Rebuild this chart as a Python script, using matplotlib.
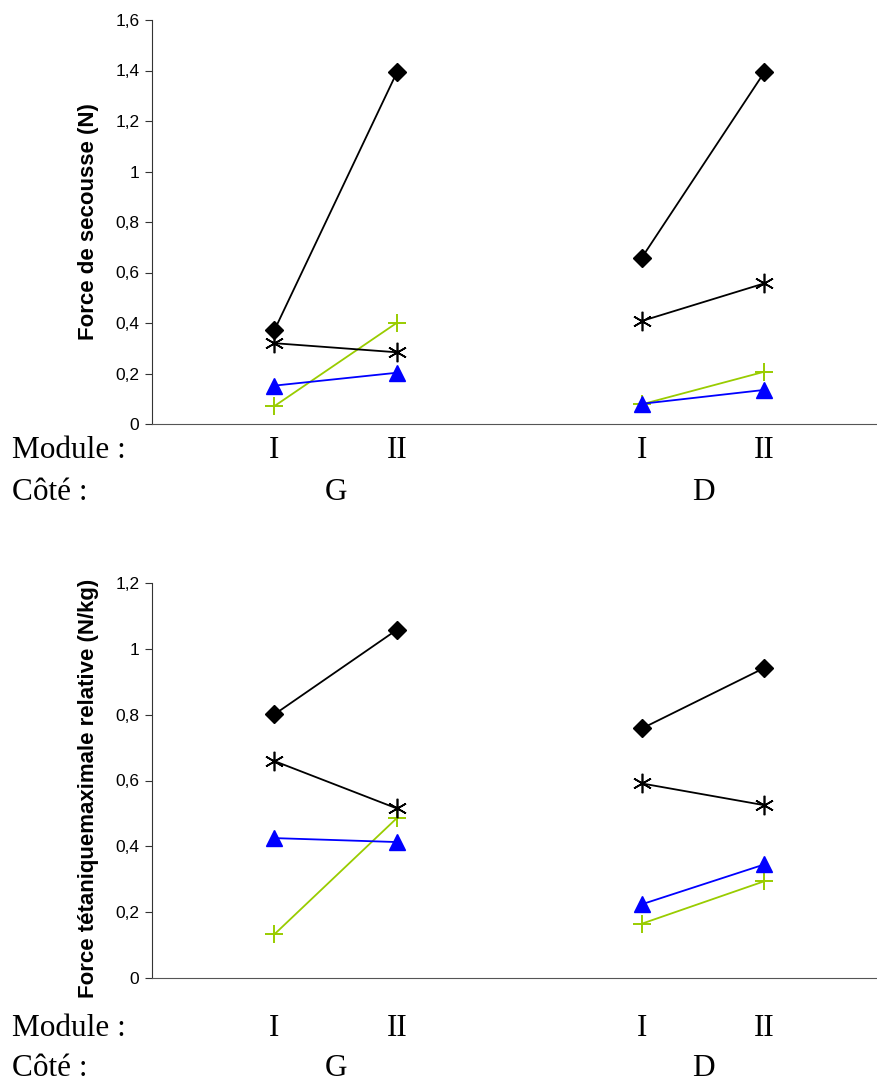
import matplotlib.pyplot as plt

# x positions of the four measures: G-I, G-II, D-I, D-II
x_pos = [1, 2, 4, 5]
module_labels = ["I", "II", "I", "II"]
side_labels = ["G", "D"]

# top chart: Force de secousse (N)
sec_diamond = [0.372, 1.393, 0.659, 1.393]
sec_star = [0.320, 0.284, 0.408, 0.557]
sec_triangle = [0.152, 0.203, 0.080, 0.135]
sec_plus = [0.071, 0.401, 0.078, 0.207]

# bottom chart: Force tetanique maximale relative (N/kg)
tet_diamond = [0.801, 1.058, 0.758, 0.942]
tet_star = [0.659, 0.515, 0.591, 0.525]
tet_triangle = [0.425, 0.413, 0.224, 0.345]
tet_plus = [0.133, 0.486, 0.165, 0.294]

green = "#99CC00"
blue = "#0000FF"


def draw_panel(ax, diamond, star, triangle, plus, ymax, step, ylabel, label_y):
    # each side drawn as its own segment (G then D)
    for seg in [slice(0, 2), slice(2, 4)]:
        xs = x_pos[seg]
        ax.plot(xs, plus[seg], color=green, lw=1.3, marker="+", ms=13, mew=1.4)
        ax.plot(xs, triangle[seg], color=blue, lw=1.3, marker="^", ms=12)
        ax.plot(xs, star[seg], color="black", lw=1.3, marker=(6, 2, 0), ms=14, mew=1.2)
        ax.plot(xs, diamond[seg], color="black", lw=1.3, marker="D", ms=9.5)
    ax.set_xlim(0, 5.92)
    ax.set_ylim(0, ymax)
    ticks = [round(i * step, 1) for i in range(int(round(ymax / step)) + 1)]
    ax.set_yticks(ticks)
    ax.set_yticklabels([("%g" % t).replace(".", ",") for t in ticks],
                       fontsize=12.5, family="Liberation Sans")
    ax.set_xticks([])
    ax.spines["top"].set_visible(False)
    ax.spines["right"].set_visible(False)
    ax.spines["left"].set_color("#333333")
    ax.spines["bottom"].set_color("#555555")
    ax.tick_params(axis="y", length=5, color="#333333", pad=4)
    ax.set_ylabel(ylabel, fontsize=16, fontweight="bold", family="Liberation Sans")
    ax.yaxis.set_label_coords(-0.073, label_y)
    ax.patch.set_alpha(0)


fig = plt.figure(figsize=(8.77, 10.9), dpi=100)

ax1 = fig.add_axes([152 / 877, 1 - 424 / 1090, 1 - 152 / 877, 404 / 1090])
draw_panel(ax1, sec_diamond, sec_star, sec_triangle, sec_plus, 1.6, 0.2,
           "Force de secousse (N)", 0.5)

ax2 = fig.add_axes([152 / 877, 1 - 978 / 1090, 1 - 152 / 877, 395 / 1090])
draw_panel(ax2, tet_diamond, tet_star, tet_triangle, tet_plus, 1.2, 0.2,
           "Force tétaniquemaximale relative (N/kg)", 0.48)

# row labels under each chart (Module / Côté)
for ax, ym, yc in [(ax1, 451, 493), (ax2, 1029, 1069)]:
    fig.text(12 / 877, 1 - ym / 1090, "Module :", fontsize=22.5, family="Liberation Serif", va="center")
    fig.text(12 / 877, 1 - yc / 1090, "Côté :", fontsize=22.5, family="Liberation Serif", va="center")
    for xp, lab in zip(x_pos, module_labels):
        fig.text(ax.transData.transform((xp, 0))[0] / 877, 1 - ym / 1090, lab,
                 fontsize=22.5, family="Liberation Serif", ha="center", va="center")
    for xp, lab in zip([1.5, 4.5], side_labels):
        fig.text(ax.transData.transform((xp, 0))[0] / 877, 1 - yc / 1090, lab,
                 fontsize=22.5, family="Liberation Serif", ha="center", va="center")

plt.savefig("out.png", dpi=100)
